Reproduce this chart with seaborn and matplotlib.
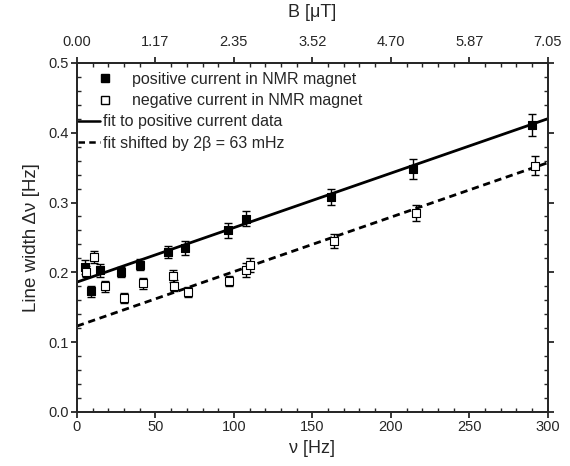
import numpy as np
import matplotlib
matplotlib.use("Agg")
import matplotlib.pyplot as plt
import seaborn as sns
from matplotlib.ticker import MultipleLocator, FixedLocator, FormatStrFormatter
from matplotlib.lines import Line2D

# data
pos_nu = [5, 9, 15, 28, 40, 58, 69, 96, 108, 162, 214, 290]
pos_width = [0.208, 0.173, 0.203, 0.201, 0.211, 0.229, 0.235, 0.260, 0.277, 0.308, 0.348, 0.411]
pos_err = [0.010, 0.008, 0.009, 0.007, 0.008, 0.009, 0.010, 0.011, 0.011, 0.012, 0.014, 0.016]

neg_nu = [6, 11, 18, 30, 42, 61, 62, 71, 97, 108, 110, 164, 216, 292]
neg_width = [0.201, 0.222, 0.180, 0.163, 0.184, 0.195, 0.181, 0.172, 0.188, 0.203, 0.211, 0.245, 0.285, 0.353]
neg_err = [0.008, 0.009, 0.008, 0.007, 0.008, 0.009, 0.008, 0.007, 0.007, 0.010, 0.010, 0.010, 0.011, 0.014]

fit_intercept = 0.186
fit_slope = 0.00078
shift = 0.063
fit_nu = [0, 300]

top_ticks_nu = [0, 50, 100, 150, 200, 250, 300]
top_tick_labels = ["0.00", "1.17", "2.35", "3.52", "4.70", "5.87", "7.05"]

sns.set_style("ticks")
plt.rcParams['font.family'] = ['Liberation Sans', 'DejaVu Sans']
plt.rcParams['axes.linewidth'] = 1.3

DASH = (0, (2.6, 1.7))

fig = plt.figure(figsize=(5.7, 4.66), dpi=100)
ax = fig.add_axes([0.135, 0.116, 0.826, 0.749])

fit_y = [fit_intercept + fit_slope * n for n in fit_nu]
shift_y = [v - shift for v in fit_y]
sns.lineplot(x=fit_nu, y=fit_y, ax=ax, color='black', linewidth=2.0)
sns.lineplot(x=fit_nu, y=shift_y, ax=ax, color='black', linewidth=2.0, linestyle=DASH)

ax.errorbar(pos_nu, pos_width, yerr=pos_err, fmt='none', ecolor='black',
            elinewidth=1.0, capsize=3, capthick=1.0, zorder=3)
ax.errorbar(neg_nu, neg_width, yerr=neg_err, fmt='none', ecolor='black',
            elinewidth=1.0, capsize=3, capthick=1.0, zorder=3)
sns.scatterplot(x=pos_nu, y=pos_width, ax=ax, marker='s', s=30,
                color='black', edgecolor='black', linewidth=0.8, zorder=4)
sns.scatterplot(x=neg_nu, y=neg_width, ax=ax, marker='s', s=30,
                color='white', edgecolor='black', linewidth=0.8, zorder=4)

ax.set_xlim(0, 300)
ax.set_ylim(0, 0.5)
ax.xaxis.set_major_locator(MultipleLocator(50))
ax.xaxis.set_minor_locator(MultipleLocator(10))
ax.yaxis.set_major_locator(MultipleLocator(0.1))
ax.yaxis.set_minor_locator(MultipleLocator(0.02))
ax.yaxis.set_major_formatter(FormatStrFormatter('%.1f'))
ax.tick_params(which='major', direction='out', length=4, width=1.3, labelsize=10.5,
               right=True, pad=2)
ax.tick_params(which='minor', direction='in', length=3, width=1.0, right=True)
for s in ax.spines.values():
    s.set_visible(True)

ax.set_xlabel("ν [Hz]", fontsize=13, labelpad=4)
ax.set_ylabel("Line width Δν [Hz]", fontsize=13.5, labelpad=6)

top = ax.twiny()
top.set_xlim(ax.get_xlim())
top.xaxis.set_major_locator(FixedLocator(top_ticks_nu))
top.set_xticklabels(top_tick_labels)
top.xaxis.set_minor_locator(MultipleLocator(10))
top.tick_params(which='major', direction='out', length=4, width=1.3, labelsize=10.5, pad=6)
top.tick_params(which='minor', direction='in', length=3, width=1.0)
top.set_xlabel("B [μT]", fontsize=13, labelpad=13)

leg_kw = dict(frameon=False, fontsize=11.5, labelspacing=0.42,
              borderpad=0, borderaxespad=0, handlelength=1.4, loc='upper left')

marker_handles = [
    Line2D([], [], marker='s', color='black', linestyle='none', markersize=5.5),
    Line2D([], [], marker='s', markerfacecolor='white', markeredgecolor='black',
           linestyle='none', markersize=5.5),
]
leg1 = ax.legend(marker_handles,
                 ["positive current in NMR magnet", "negative current in NMR magnet"],
                 bbox_to_anchor=(0.036, 0.975), handletextpad=1.0, **leg_kw)
ax.add_artist(leg1)

line_handles = [
    Line2D([], [], color='black', linewidth=1.8),
    Line2D([], [], color='black', linewidth=1.8, linestyle=DASH),
]
ax.legend(line_handles,
          ["fit to positive current data", "fit shifted by 2β = 63 mHz"],
          bbox_to_anchor=(0.002, 0.853), handletextpad=0.2, **leg_kw)

fig.savefig("out.png", dpi=100)
